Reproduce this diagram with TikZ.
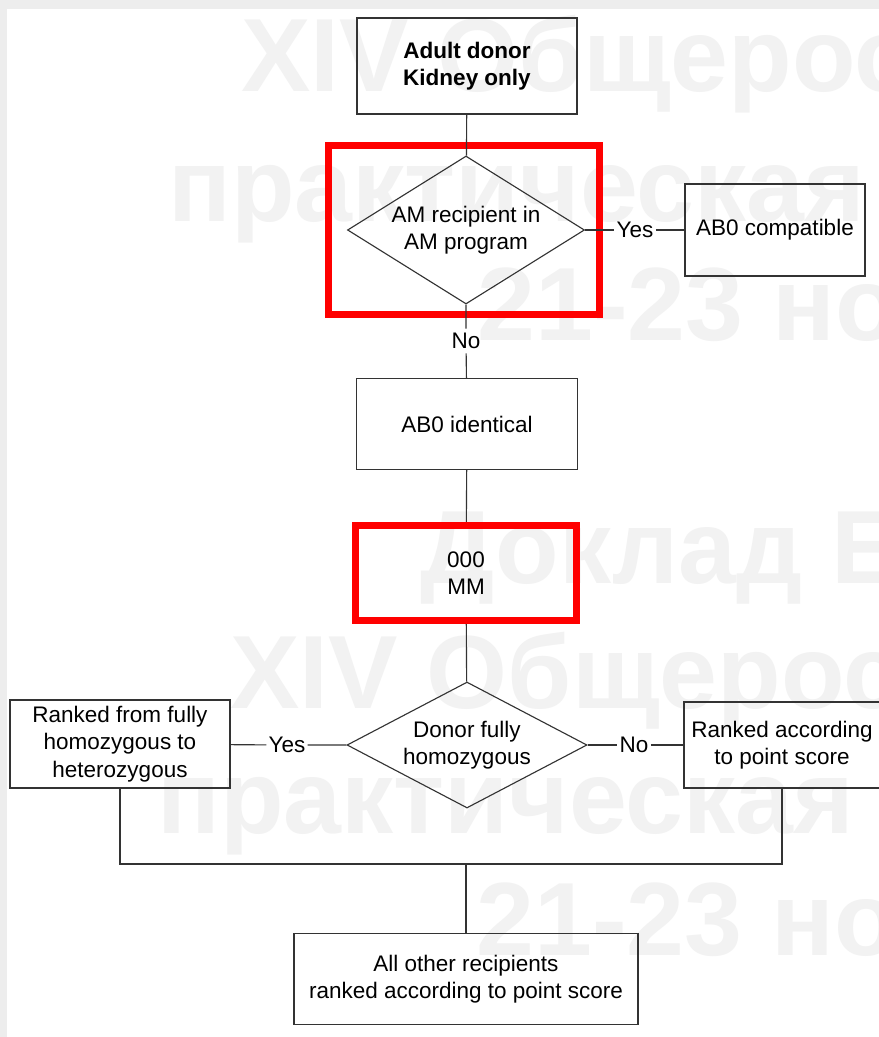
\documentclass[tikz,border=0pt]{standalone}
\usepackage{fontspec}
\setmainfont{Liberation Sans}
\newfontfamily\wmfont{Liberation Sans}
\usetikzlibrary{shapes.geometric}
\def\px{0.025cm}
\def\txt{\fontsize{16}{19.5}\selectfont}
\tikzset{
    every picture/.style={x=0.025cm, y=-0.025cm},
    box/.style={draw=black!80, line width=0.8pt, align=center, inner sep=0pt, font=\txt},
    decision/.style={diamond, draw=black!80, line width=0.8pt, align=center, inner sep=0pt, font=\txt},
    branch/.style={inner sep=1.5pt, font=\txt},
    line/.style={draw=black!80, line width=0.8pt},
    redframe/.style={draw=red, line width=5.3pt},
    watermark/.style={anchor=base west, inner sep=0pt, text=black!5,
        font=\wmfont\bfseries\fontsize{74}{80}\selectfont}
}

\begin{document}
\begin{tikzpicture}

    % Page with grey frame
    \useasboundingbox (0,0) rectangle (879,1037);
    \fill[black!7] (0,0) rectangle (879,1037);
    \fill[white] (7,9) rectangle (879,1037);

    % Watermark
    \begin{scope}
        \clip (7,9) rectangle (879,1037);
        \node[watermark] (wm1) at (241,92) {XIV Общерос};
        \node[watermark] (wm2) at (168,222) {практическая};
        \node[watermark] (wm3) at (477,340) {21-23 но};
        \node[watermark] (wm4) at (420,583) {Доклад Е};
        \node[watermark] (wm5) at (230,708) {XIV Общерос};
        \node[watermark] (wm6) at (157,833) {практическая};
        \node[watermark] (wm7) at (476,955) {21-23 но};
    \end{scope}

    % Main column
    \node[box, minimum width=220*\px, minimum height=96*\px, font=\txt\bfseries] (donor) at (467,66) {Adult donor\\Kidney only};
    \node[decision, minimum width=237*\px, minimum height=148*\px, aspect=1.6] (amprog) at (466,230) {AM recipient in\\AM program};
    \node[branch] (yes1) at (635,230) {Yes};
    \node[box, minimum width=180*\px, minimum height=92*\px] (compat) at (775,230) {AB0 compatible};
    \node[branch, inner sep=3pt] (no1) at (466,341) {No};
    \node[box, minimum width=221*\px, minimum height=91*\px] (ident) at (467,424) {AB0 identical};

    % Homozygosity decision
    \node[decision, minimum width=240*\px, minimum height=126*\px, aspect=1.9] (homo) at (467,745) {Donor fully\\homozygous};
    \node[branch] (yes2) at (287,745) {Yes};
    \node[box, minimum width=220*\px, minimum height=88*\px] (ranked) at (120,744) {Ranked from fully\\homozygous to\\heterozygous};
    \node[branch] (no2) at (634,745) {No};
    \node[box, minimum width=196*\px, minimum height=86*\px] (score) at (782,745) {Ranked according\\to point score};
    \node[box, minimum width=344*\px, minimum height=91*\px] (others) at (466,979) {All other recipients\\ranked according to point score};
    \coordinate (join) at (466,864);

    % Red highlight
    \draw[redframe] (328.5,145.5) rectangle (599.5,314.5);
    \node[box, minimum width=221*\px, minimum height=95*\px, redframe] (mm) at (466,573) {000\\MM};

    % Connectors
    \draw[line] (donor) -- (amprog);
    \draw[line] (amprog) -- (yes1) -- (compat);
    \draw[line] (amprog) -- (no1) -- (ident);
    \draw[line] (ident) -- (mm);
    \draw[line] (mm) -- (homo);
    \draw[line] (homo) -- (yes2) -- (ranked);
    \draw[line] (homo) -- (no2) -- (score);
    \draw[line] (ranked.south) |- (join) -| (score.south);
    \draw[line] (join) -- (others);

\end{tikzpicture}
\end{document}
